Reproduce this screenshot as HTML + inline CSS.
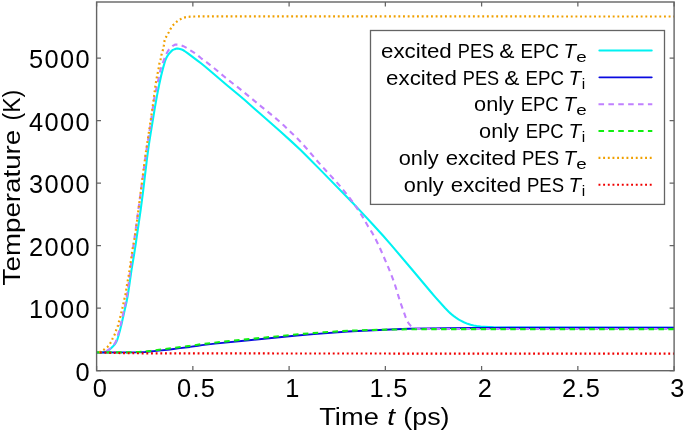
<!DOCTYPE html><html><head><meta charset="utf-8"><title>plot</title><style>
html,body{margin:0;padding:0;background:#fff;}
svg{display:block;will-change:transform;}
text{font-family:"Liberation Sans",sans-serif;fill:#000;}
</style></head><body>
<svg width="685" height="432" viewBox="0 0 685 432">
<rect x="0" y="0" width="685" height="432" fill="#fff"/>
<defs><clipPath id="c"><rect x="96.6" y="2" width="577.5" height="368.7"/></clipPath></defs>
<g clip-path="url(#c)" fill="none" stroke-width="2.1" stroke-linejoin="round">
<path d="M96.60 352.40L102.90 352.40L103.90 352.29L105.85 351.67L106.80 351.22L108.60 350.18L109.45 349.61L111.05 348.31L112.55 346.84L114.60 344.49L115.25 343.68L115.85 342.78L116.35 341.85L117.20 339.81L117.90 337.78L120.00 330.30L121.55 324.03L126.55 301.70L127.40 297.33L128.20 292.52L129.10 286.71L131.55 269.68L134.35 252.81L135.70 244.14L140.65 209.93L142.90 192.90L147.10 157.53L148.90 144.48L150.60 133.61L155.00 106.83L157.00 95.68L159.20 84.54L160.95 76.47L162.75 69.15L164.85 61.74L165.55 59.70L166.40 57.80L167.45 55.92L168.60 54.24L169.25 53.43L170.65 51.87L172.10 50.47L172.95 49.87L174.85 49.12L175.85 48.84L176.85 48.65L177.85 48.60L178.85 48.71L179.85 48.94L181.80 49.57L182.75 49.96L184.50 51.01L187.90 53.39L197.80 60.80L201.00 63.29L205.00 66.55L210.60 71.24L228.20 86.29L239.40 95.49L245.00 100.30L259.40 113.07L279.85 131.07L291.85 141.89L300.85 150.31L308.35 157.70L321.85 171.38L352.80 203.10L361.90 212.61L372.40 223.95L382.90 235.56L391.30 245.10L410.95 268.23L431.10 292.29L435.25 297.08L445.05 308.04L448.70 311.73L450.20 313.12L452.60 315.18L454.20 316.45L455.90 317.68L458.45 319.35L460.25 320.41L463.90 322.27L467.70 323.85L470.60 324.82L473.60 325.56L476.60 326.09L480.60 326.56L484.60 326.85L493.60 327.36L501.60 327.53L509.60 327.60L674.10 327.70" stroke="#00f2f2"/>
<path d="M96.60 352.40L127.95 352.39L138.95 352.23L144.95 352.01L158.95 350.61L169.95 349.41L179.95 348.11L189.95 346.91L197.95 345.69L201.95 345.15L214.95 343.64L248.95 340.19L296.95 335.57L313.95 334.15L347.95 331.53L357.95 330.98L395.95 329.23L408.95 328.75L425.95 328.39L445.95 328.14L472.95 327.93L515.95 327.80L674.10 327.80" stroke="#0a0ae0" stroke-width="1.95"/>
<path d="M96.60 352.40L102.85 352.36L103.85 352.11L104.80 351.80L105.75 351.40L106.65 350.92L108.40 349.85L110.05 348.58L111.55 347.15L112.95 345.61L114.25 344.07L114.85 343.25L115.40 342.34L115.85 341.41L116.65 339.41L117.30 337.44L119.70 328.78L120.95 323.60L125.70 302.43L126.55 298.12L127.30 293.43L128.50 284.76L132.85 249.62L137.20 218.43L145.00 160.44L146.85 147.69L150.60 124.33L153.45 103.39L154.05 99.72L154.65 96.54L158.35 79.77L159.65 73.23L160.15 71.11L161.05 67.94L162.05 64.88L163.15 61.87L164.75 57.80L165.95 54.94L166.85 53.02L167.90 51.15L169.15 49.46L170.55 47.94L172.05 46.49L172.85 45.82L174.60 44.82L175.55 44.52L177.55 44.58L179.55 44.81L180.55 45.04L183.40 46.16L185.20 47.08L187.00 48.12L191.25 50.92L194.75 53.13L195.60 53.74L201.20 58.28L207.10 62.59L210.30 65.06L215.10 68.96L224.70 76.99L228.70 80.26L231.90 82.78L238.30 87.67L242.30 90.84L260.70 106.08L273.50 116.47L278.30 120.52L283.65 125.32L291.90 133.17L297.15 138.28L300.75 141.99L306.35 148.21L316.35 159.91L320.55 164.72L324.75 169.33L334.55 179.83L340.10 186.12L350.50 199.03L352.40 201.54L354.80 205.00L360.20 213.09L362.95 217.41L368.15 226.45L371.45 231.59L372.55 233.41L374.05 236.11L375.55 238.99L379.20 246.51L382.80 254.54L388.40 267.70L392.00 276.64L393.85 281.62L395.25 285.71L399.20 298.65L400.55 302.85L405.80 317.61L406.60 319.64L407.05 320.60L408.10 322.49L409.25 324.14L410.60 325.66L411.35 326.34L412.20 326.92L413.10 327.38L414.05 327.75L416.05 328.36L417.05 328.59L418.05 328.70L420.05 328.77L427.05 328.88L458.05 329.00L674.10 329.00" stroke="#c080ff" stroke-dasharray="5.55 4.33" stroke-dashoffset="0.0"/>
<path d="M96.60 352.40L126.95 352.38L138.95 351.94L144.95 351.58L150.95 350.88L160.95 349.48L189.95 345.91L198.95 344.55L202.95 344.02L220.95 341.95L229.95 340.99L300.95 334.02L311.95 333.15L323.95 332.30L341.95 331.12L350.95 330.66L367.95 330.10L392.95 329.52L409.95 329.28L432.95 329.12L674.10 329.10" stroke="#10ee10" stroke-dasharray="5.55 4.33" stroke-dashoffset="0.2"/>
<path d="M96.60 352.40L98.70 352.40L99.70 352.15L100.50 351.54L101.35 351.02L103.20 350.09L104.10 349.57L105.80 348.40L107.35 347.10L108.80 345.56L109.40 344.75L111.00 342.08L111.50 341.09L112.80 338.11L114.25 335.41L115.15 333.47L116.40 329.29L116.80 328.24L117.70 326.31L118.10 325.30L118.40 324.34L119.30 320.10L120.60 315.90L121.60 311.30L122.70 307.13L123.80 301.54L125.30 295.29L125.75 293.17L127.05 284.30L128.45 276.94L129.05 273.46L132.55 249.21L132.95 246.90L133.95 242.27L134.95 236.24L136.60 224.37L144.10 165.61L146.20 150.00L149.80 126.34L152.35 109.00L153.70 99.25L155.50 85.00L156.70 77.94L158.50 69.21L159.40 63.50L159.65 62.47L160.60 59.30L161.45 54.91L161.70 53.93L162.65 50.92L163.20 48.74L163.85 45.48L164.55 40.61L164.85 39.57L165.25 38.52L166.70 35.82L168.85 32.21L170.75 28.49L171.30 27.59L172.50 25.92L173.85 24.34L176.05 22.24L177.70 20.96L179.40 19.83L181.20 18.85L183.10 17.98L184.05 17.61L185.05 17.33L186.05 17.14L188.05 16.86L190.05 16.68L194.05 16.51L199.05 16.40L674.10 16.50" stroke="#f0a000" stroke-width="2.2" stroke-dasharray="1.9 2.76" stroke-dashoffset="-2.6"/>
<path d="M96.60 352.40L105.60 352.62L114.60 352.94L124.60 353.14L139.60 353.27L159.60 353.35L295.60 353.50L674.10 353.60" stroke="#f00000" stroke-width="2.2" stroke-dasharray="1.9 2.76" stroke-dashoffset="1.5"/>
</g>
<g stroke="#646464" stroke-width="1.4" fill="none">
<rect x="96.6" y="2.0" width="577.5" height="368.7"/>
<path d="M96.60 370.7V366.0M96.60 2V6.6M192.85 370.7V366.0M192.85 2V6.6M289.10 370.7V366.0M289.10 2V6.6M385.35 370.7V366.0M385.35 2V6.6M481.60 370.7V366.0M481.60 2V6.6M577.85 370.7V366.0M577.85 2V6.6M674.10 370.7V366.0M674.10 2V6.6M96.6 370.70H101.0M674.1 370.70H669.6M96.6 308.20H101.0M674.1 308.20H669.6M96.6 245.70H101.0M674.1 245.70H669.6M96.6 183.20H101.0M674.1 183.20H669.6M96.6 120.70H101.0M674.1 120.70H669.6M96.6 58.20H101.0M674.1 58.20H669.6" stroke-width="1.25"/>
</g>
<rect x="370.5" y="30.5" width="294" height="173.9" fill="#fff" stroke="#646464" stroke-width="1.3"/>
<line x1="599.4" y1="50.50" x2="651.7" y2="50.50" stroke="#00f2f2" stroke-width="2.1" stroke-linecap="round"/>
<line x1="599.4" y1="77.35" x2="651.7" y2="77.35" stroke="#0a0ae0" stroke-width="1.95" stroke-linecap="round"/>
<line x1="598.5" y1="104.20" x2="652.3" y2="104.20" stroke="#c080ff" stroke-width="2.1" stroke-dasharray="5.55 4.33"/>
<line x1="598.5" y1="131.05" x2="652.3" y2="131.05" stroke="#10ee10" stroke-width="2.1" stroke-dasharray="5.55 4.33"/>
<line x1="598.5" y1="157.90" x2="652.3" y2="157.90" stroke="#f0a000" stroke-width="2.2" stroke-dasharray="1.9 2.76"/>
<line x1="598.5" y1="184.75" x2="652.3" y2="184.75" stroke="#f00000" stroke-width="2.2" stroke-dasharray="1.9 2.76"/>
<text x="0" y="0" font-size="19.4" transform="translate(382.10 57.70) scale(1.1512 1.0000) translate(-0.923 0)">excited</text>
<text x="0" y="0" font-size="19.4" transform="translate(459.40 57.70) scale(0.9351 1.0000) translate(-1.667 0)">PES</text>
<text x="0" y="0" font-size="19.4" transform="translate(500.30 57.70) scale(1.1758 1.0000) translate(-0.832 0)">&amp;</text>
<text x="0" y="0" font-size="19.4" transform="translate(522.20 57.70) scale(0.9651 1.0000) translate(-1.667 0)">EPC</text>
<text x="0" y="0" font-size="19.4" font-style="italic" transform="translate(565.60 57.70) scale(1.0560 1.0000) translate(-1.941 0)">T</text>
<text x="0" y="0" font-size="15.5" transform="translate(577.20 61.70) scale(1.2098 1.0000) translate(-0.815 0)">e</text>
<text x="0" y="0" font-size="19.4" transform="translate(387.13 84.55) scale(1.1512 1.0000) translate(-0.923 0)">excited</text>
<text x="0" y="0" font-size="19.4" transform="translate(464.43 84.55) scale(0.9351 1.0000) translate(-1.667 0)">PES</text>
<text x="0" y="0" font-size="19.4" transform="translate(505.33 84.55) scale(1.1758 1.0000) translate(-0.832 0)">&amp;</text>
<text x="0" y="0" font-size="19.4" transform="translate(527.23 84.55) scale(0.9651 1.0000) translate(-1.667 0)">EPC</text>
<text x="0" y="0" font-size="19.4" font-style="italic" transform="translate(570.63 84.55) scale(1.0560 1.0000) translate(-1.941 0)">T</text>
<text x="581.83" y="88.55" font-size="15.5">i</text>
<text x="0" y="0" font-size="19.4" transform="translate(475.10 111.40) scale(1.1207 1.0000) translate(-0.907 0)">only</text>
<text x="0" y="0" font-size="19.4" transform="translate(522.30 111.40) scale(0.9516 1.0000) translate(-1.667 0)">EPC</text>
<text x="0" y="0" font-size="19.4" font-style="italic" transform="translate(565.60 111.40) scale(1.0560 1.0000) translate(-1.941 0)">T</text>
<text x="0" y="0" font-size="15.5" transform="translate(577.20 115.40) scale(1.2098 1.0000) translate(-0.815 0)">e</text>
<text x="0" y="0" font-size="19.4" transform="translate(480.13 138.25) scale(1.1207 1.0000) translate(-0.907 0)">only</text>
<text x="0" y="0" font-size="19.4" transform="translate(527.33 138.25) scale(0.9516 1.0000) translate(-1.667 0)">EPC</text>
<text x="0" y="0" font-size="19.4" font-style="italic" transform="translate(570.63 138.25) scale(1.0560 1.0000) translate(-1.941 0)">T</text>
<text x="581.83" y="142.25" font-size="15.5">i</text>
<text x="0" y="0" font-size="19.4" transform="translate(399.80 165.10) scale(1.1207 1.0000) translate(-0.907 0)">only</text>
<text x="0" y="0" font-size="19.4" transform="translate(446.80 165.10) scale(1.1462 1.0000) translate(-0.923 0)">excited</text>
<text x="0" y="0" font-size="19.4" transform="translate(523.50 165.10) scale(0.9573 1.0000) translate(-1.667 0)">PES</text>
<text x="0" y="0" font-size="19.4" font-style="italic" transform="translate(565.60 165.10) scale(1.0560 1.0000) translate(-1.941 0)">T</text>
<text x="0" y="0" font-size="15.5" transform="translate(577.20 169.10) scale(1.2098 1.0000) translate(-0.815 0)">e</text>
<text x="0" y="0" font-size="19.4" transform="translate(404.83 191.95) scale(1.1207 1.0000) translate(-0.907 0)">only</text>
<text x="0" y="0" font-size="19.4" transform="translate(451.83 191.95) scale(1.1462 1.0000) translate(-0.923 0)">excited</text>
<text x="0" y="0" font-size="19.4" transform="translate(528.53 191.95) scale(0.9573 1.0000) translate(-1.667 0)">PES</text>
<text x="0" y="0" font-size="19.4" font-style="italic" transform="translate(570.63 191.95) scale(1.0560 1.0000) translate(-1.941 0)">T</text>
<text x="581.83" y="195.95" font-size="15.5">i</text>
<text x="91.00" y="380.70" text-anchor="end" font-size="25.4" letter-spacing="1.40">0</text>
<text x="91.00" y="318.20" text-anchor="end" font-size="25.4" letter-spacing="1.40">1000</text>
<text x="91.00" y="255.70" text-anchor="end" font-size="25.4" letter-spacing="1.40">2000</text>
<text x="91.00" y="193.20" text-anchor="end" font-size="25.4" letter-spacing="1.40">3000</text>
<text x="91.00" y="130.70" text-anchor="end" font-size="25.4" letter-spacing="1.40">4000</text>
<text x="91.00" y="68.20" text-anchor="end" font-size="25.4" letter-spacing="1.40">5000</text>
<text x="100.40" y="396.80" text-anchor="middle" font-size="25.4" letter-spacing="1.40">0</text>
<text x="196.65" y="396.80" text-anchor="middle" font-size="25.4" letter-spacing="1.40">0.5</text>
<text x="292.90" y="396.80" text-anchor="middle" font-size="25.4" letter-spacing="1.40">1</text>
<text x="389.15" y="396.80" text-anchor="middle" font-size="25.4" letter-spacing="1.40">1.5</text>
<text x="485.40" y="396.80" text-anchor="middle" font-size="25.4" letter-spacing="1.40">2</text>
<text x="581.65" y="396.80" text-anchor="middle" font-size="25.4" letter-spacing="1.40">2.5</text>
<text x="677.90" y="396.80" text-anchor="middle" font-size="25.4" letter-spacing="1.40">3</text>
<text x="0" y="0" font-size="24.4" transform="translate(319.90 424.70) scale(1.1177 1.0000) translate(-0.596 0)">Time</text>
<text x="0" y="0" font-size="24.4" font-style="italic" transform="translate(388.50 424.70) scale(1.1500 1.0000) translate(-1.090 0)">t</text>
<text x="0" y="0" font-size="24.4" transform="translate(405.00 424.70) scale(1.1013 1.0000) translate(-1.576 0)">(ps)</text>
<g transform="translate(20.10 0) rotate(-90)">
<text x="0" y="0" font-size="24.4" transform="translate(-284.70 0.00) scale(1.1363 1.0000) translate(-0.596 0)">Temperature</text>
<text x="0" y="0" font-size="24.4" transform="translate(-118.90 0.00) scale(0.9434 1.0000) translate(-1.576 0)">(K)</text>
</g>
</svg></body></html>
